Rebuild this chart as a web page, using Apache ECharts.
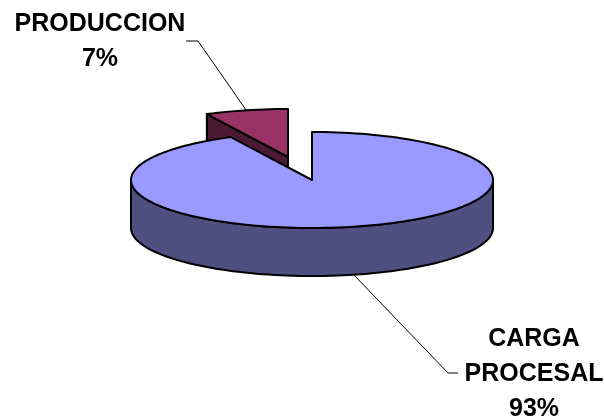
<!DOCTYPE html>
<html>
<head>
<meta charset="utf-8">
<style>html,body{margin:0;padding:0;background:#fff}#c{width:604px;height:418px}</style>
<script src="https://cdn.jsdelivr.net/npm/echarts@6/dist/echarts.min.js"></script>
</head>
<body>
<div id="c"></div>
<script>
var categories = ['PRODUCCION', 'CARGA\nPROCESAL'];
var values = [7.4, 92.6];

var topColors = ['#993366', '#9999FF'];
var sideColors = ['#4D1A33', '#4F4F82'];
var CX = 312, CY = 180, RX = 181, RY = 48, DEPTH = 48;
var explode = [[-24, -23], [0, 0]];
var labelPos = [[100, 42], [534, 374]];
var elbows = [[[198, 41], [186, 41]], [[448, 373], [458, 373]]];
var total = values[0] + values[1];

function pt(cx, cy, deg, dy) {
  var r = deg * Math.PI / 180;
  return [cx + RX * Math.sin(r), cy - RY * Math.cos(r) + (dy || 0)];
}
function arc(cx, cy, a0, a1, dy) {
  var n = Math.max(2, Math.ceil(Math.abs(a1 - a0) / 2)), out = [];
  for (var i = 0; i <= n; i++) out.push(pt(cx, cy, a0 + (a1 - a0) * i / n, dy));
  return out;
}
var line = { stroke: '#000', lineWidth: 2, lineJoin: 'round' };

function renderItem(params, api) {
  var i = params.dataIndex;
  var share = api.value(0) / total * 360;
  var start = -values[0] / total * 360;
  for (var k = 0; k < i; k++) start += values[k] / total * 360;
  var end = start + share;
  var cx = CX + explode[i][0], cy = CY + explode[i][1];
  var kids = [];
  var mid = (start + end) / 2;
  var onFront = Math.cos(mid * Math.PI / 180) < 0;
  var anchor = pt(cx, cy, mid, onFront ? DEPTH : 0);
  kids.push({ type: 'polyline', shape: { points: [anchor].concat(elbows[i]) },
    style: { stroke: '#000', lineWidth: 1, fill: null }, z2: 1 });
  if (i === 0) {
    var c = [cx, cy], e = pt(cx, cy, start);
    kids.push({ type: 'polygon', shape: { points: [c, e, [e[0], e[1] + DEPTH], [c[0], c[1] + DEPTH]] },
      style: Object.assign({ fill: sideColors[i] }, line), z2: 2 });
  } else {
    var front = arc(cx, cy, 90, 270);
    var back = arc(cx, cy, 270, 90, DEPTH);
    kids.push({ type: 'polygon', shape: { points: front.concat(back) },
      style: Object.assign({ fill: sideColors[i] }, line), z2: 2 });
  }
  kids.push({ type: 'polygon', shape: { points: [[cx, cy]].concat(arc(cx, cy, start, end)) },
    style: Object.assign({ fill: topColors[i] }, line), z2: 3 });
  kids.push({ type: 'text', z2: 4, style: {
    x: labelPos[i][0], y: labelPos[i][1],
    text: categories[i] + '\n' + Math.round(api.value(0)) + '%',
    font: 'bold 25px "Liberation Sans", Arial, sans-serif',
    lineHeight: 35, fill: '#000', textAlign: 'center', textVerticalAlign: 'middle'
  } });
  return { type: 'group', children: kids };
}

var chart = echarts.init(document.getElementById('c'), null, { renderer: 'canvas' });
chart.setOption({
  animation: false,
  backgroundColor: '#fff',
  series: [{
    type: 'custom',
    coordinateSystem: 'none',
    renderItem: renderItem,
    data: values.map(function (v, i) { return { name: categories[i], value: [v] }; })
  }]
});
</script>
</body>
</html>
